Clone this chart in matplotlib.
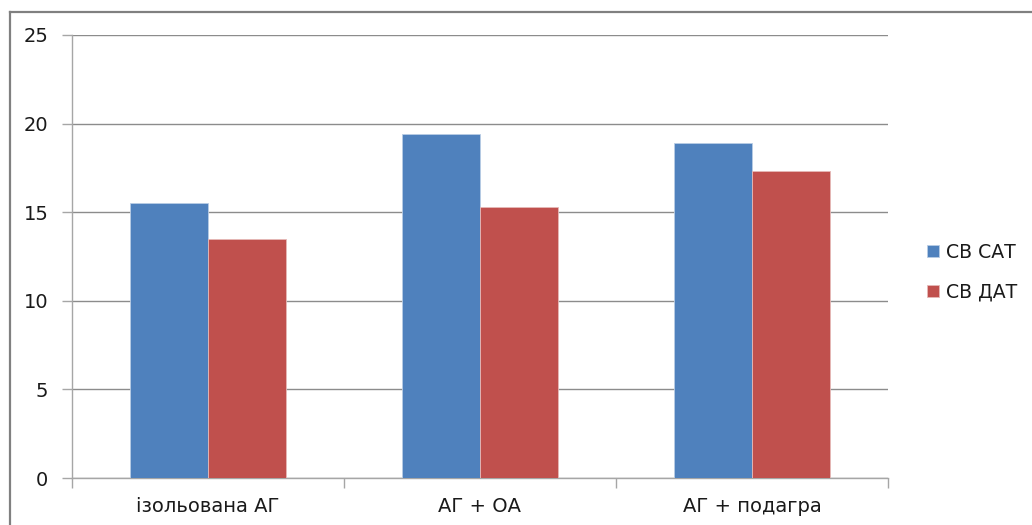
import matplotlib
matplotlib.use("Agg")
import matplotlib.pyplot as plt
import numpy as np
from matplotlib.lines import Line2D

categories = ["ізольована АГ", "АГ + ОА", "АГ + подагра"]
series_names = ["СВ САТ", "СВ ДАТ"]
sv_sat = [15.5, 19.4, 18.9]
sv_dat = [13.5, 15.3, 17.3]
y_ticks = [0, 5, 10, 15, 20, 25]

blue = "#4F81BD"
red = "#C0504D"
grid_c = "#8C8C8C"
axis_c = "#A6A6A6"
text_c = "#1a1a1a"

plt.rcParams["font.family"] = ["DejaVu Sans"]

fig = plt.figure(figsize=(10.32, 5.25), dpi=100)
ax = fig.add_axes([72 / 1032, 1 - 478 / 525, (888 - 72) / 1032, (478 - 35) / 525])

x = np.arange(len(categories))
w = 1 / 3.5
ax.bar(x - w / 2, sv_sat, width=w, color=blue, edgecolor="#B9CDE5", linewidth=0.6,
       label=series_names[0], zorder=3)
ax.bar(x + w / 2, sv_dat, width=w, color=red, edgecolor="#E6B9B8", linewidth=0.6,
       label=series_names[1], zorder=3)

ax.set_xlim(-0.5, len(categories) - 0.5)
ax.set_ylim(0, 25)
ax.set_yticks(y_ticks)
ax.set_yticklabels([str(v) for v in y_ticks], fontsize=14, color=text_c)
ax.set_xticks(np.arange(len(categories) + 1) - 0.5)
ax.set_xticklabels([])
ax.set_xticks(x, minor=True)
ax.set_xticklabels(categories, minor=True, fontsize=14, color=text_c)
ax.tick_params(axis="x", which="minor", length=0, pad=14)
ax.tick_params(axis="x", which="major", length=7, color=axis_c, width=1)
ax.tick_params(axis="y", length=7, color=axis_c, width=1, pad=10)

ax.yaxis.grid(True, color=grid_c, linewidth=1, zorder=0)
for s in ["top", "right"]:
    ax.spines[s].set_visible(False)
for s in ["left", "bottom"]:
    ax.spines[s].set_color(axis_c)
    ax.spines[s].set_linewidth(1)

leg = fig.legend(loc="center left", bbox_to_anchor=(910 / 1032, 1 - 272 / 525),
                 frameon=False, fontsize=13.6, handlelength=0.64, handleheight=0.64,
                 handletextpad=0.35, labelspacing=1.1, labelcolor=text_c)

# outer chart frame
fig.add_artist(Line2D([10 / 1032, 10 / 1032], [0, 1 - 12 / 525], transform=fig.transFigure,
                      color="#808080", linewidth=1.6))
fig.add_artist(Line2D([10 / 1032, 1], [1 - 12 / 525, 1 - 12 / 525], transform=fig.transFigure,
                      color="#808080", linewidth=1.6))

fig.savefig("out.png", dpi=100)
